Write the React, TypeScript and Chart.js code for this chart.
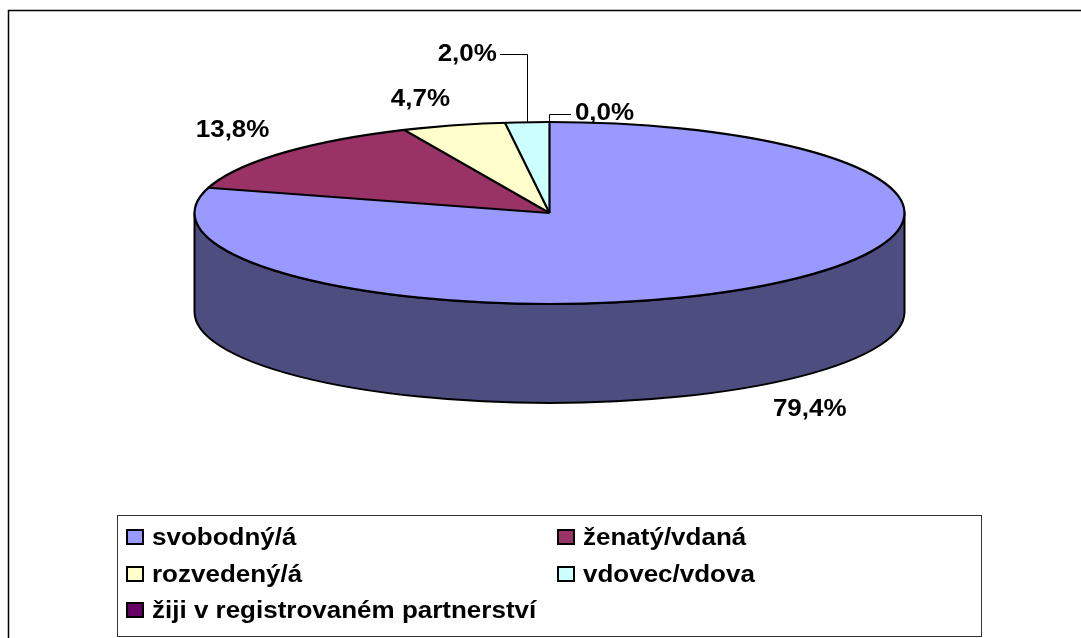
import React, { useEffect, useRef } from "react";
import { Chart, registerables } from "chart.js";

Chart.register(...registerables);

// ---- data ----
const categories = [
  "svobodný/á",
  "ženatý/vdaná",
  "rozvedený/á",
  "vdovec/vdova",
  "žiji v registrovaném partnerství",
];
const percentages = [79.4, 13.8, 4.7, 2.0, 0.0];
const sliceColors = ["#9999FF", "#993366", "#FFFFCC", "#CCFFFF", "#660066"];
// manual nudges of the data labels (Excel moved some labels, with leader lines)
const labelOffsets = [
  [0, 0],
  [10, -2],
  [-12, 4],
  [-55, -37],
  [55, 23],
];

// ---- styling / geometry ----
const W = 1081;
const H = 638;
const PIE_RX = 355;
const PIE_RY = 91;
const PIE_DEPTH = 99;
const K = PIE_RY / PIE_RX;
const FONT = "bold 23px Arial, 'Liberation Sans', sans-serif";
const STRETCH = 1.13;

function shade(hex: string, f: number): string {
  const h = hex.replace("#", "");
  const r = Math.round(parseInt(h.slice(0, 2), 16) * f);
  const g = Math.round(parseInt(h.slice(2, 4), 16) * f);
  const b = Math.round(parseInt(h.slice(4, 6), 16) * f);
  return `rgb(${r},${g},${b})`;
}

function fmt(v: number): string {
  return v.toFixed(1).replace(".", ",") + "%";
}

function stretchedText(ctx: CanvasRenderingContext2D, text: string, x: number, y: number) {
  ctx.save();
  ctx.translate(x, y);
  ctx.scale(STRETCH, 1);
  ctx.fillText(text, 0, 0);
  ctx.restore();
}

function arcGeom(chart: any) {
  const meta = chart.getDatasetMeta(0);
  const arcs = meta.data as any[];
  if (!arcs.length) return null;
  const cx = arcs[0].x;
  const cy = arcs[0].y;
  const rx = arcs[0].outerRadius;
  const ry = rx * K;
  return { arcs, cx, cy, rx, ry };
}

const pie3dPlugin = {
  id: "pie3d",
  beforeDraw(chart: any) {
    const ctx: CanvasRenderingContext2D = chart.ctx;
    ctx.save();
    ctx.fillStyle = "#ffffff";
    ctx.fillRect(0, 0, W, H);
    // outer chart frame
    ctx.strokeStyle = "#000000";
    ctx.lineWidth = 1.5;
    ctx.strokeRect(8.5, 10.5, 1120, 700);
    // legend box
    ctx.lineWidth = 1;
    ctx.strokeStyle = "#333333";
    ctx.strokeRect(117.5, 515.5, 864, 121);
    // legend items
    const colX = [126, 557];
    const rowY = [545, 582, 618];
    ctx.font = FONT;
    ctx.textAlign = "left";
    ctx.textBaseline = "alphabetic";
    categories.forEach((label, i) => {
      const x = colX[i % 2];
      const y = rowY[Math.floor(i / 2)];
      ctx.fillStyle = sliceColors[i];
      ctx.fillRect(x + 1, y - 15, 16, 14);
      ctx.lineWidth = 2;
      ctx.strokeStyle = "#000000";
      ctx.strokeRect(x + 1, y - 15, 16, 14);
      ctx.fillStyle = "#000000";
      stretchedText(ctx, label, x + 26, y);
    });
    ctx.restore();
  },
  beforeDatasetsDraw(chart: any) {
    const g = arcGeom(chart);
    const ctx: CanvasRenderingContext2D = chart.ctx;
    if (!g) {
      ctx.save();
      return;
    }
    const { arcs, cx, cy, rx, ry } = g;
    const TAU = Math.PI * 2;
    ctx.save();
    ctx.lineWidth = 2;
    ctx.strokeStyle = "#000000";
    ctx.lineJoin = "round";
    arcs.forEach((arc: any, i: number) => {
      const s = arc.startAngle;
      const e = arc.endAngle;
      if (e - s <= 1e-6) return;
      for (const k of [-1, 0, 1]) {
        const a1 = Math.max(s + k * TAU, 0);
        const a2 = Math.min(e + k * TAU, Math.PI);
        if (a2 - a1 <= 1e-6) continue;
        ctx.beginPath();
        ctx.ellipse(cx, cy, rx, ry, 0, a1, a2, false);
        ctx.lineTo(cx + rx * Math.cos(a2), cy + PIE_DEPTH + ry * Math.sin(a2));
        ctx.ellipse(cx, cy + PIE_DEPTH, rx, ry, 0, a2, a1, true);
        ctx.closePath();
        ctx.fillStyle = shade(sliceColors[i], 0.5);
        ctx.fill();
        ctx.stroke();
      }
    });
    ctx.restore();
    // squash the top face drawn by Chart.js into an ellipse
    ctx.save();
    ctx.translate(0, cy);
    ctx.scale(1, K);
    ctx.translate(0, -cy);
  },
  afterDatasetsDraw(chart: any) {
    const ctx: CanvasRenderingContext2D = chart.ctx;
    ctx.restore();
    const g = arcGeom(chart);
    if (!g) return;
    const { arcs, cx, cy, rx, ry } = g;
    ctx.save();
    ctx.lineWidth = 2.2;
    ctx.strokeStyle = "#000000";
    ctx.lineJoin = "round";
    // top outline
    ctx.beginPath();
    ctx.ellipse(cx, cy, rx, ry, 0, 0, Math.PI * 2);
    ctx.stroke();
    // radial slice borders
    arcs.forEach((arc: any) => {
      if (arc.endAngle - arc.startAngle <= 1e-6) return;
      ctx.beginPath();
      ctx.moveTo(cx, cy);
      ctx.lineTo(cx + rx * Math.cos(arc.startAngle), cy + ry * Math.sin(arc.startAngle));
      ctx.stroke();
    });
    ctx.restore();

    // data labels
    ctx.save();
    ctx.font = FONT;
    ctx.textAlign = "center";
    ctx.textBaseline = "middle";
    arcs.forEach((arc: any, i: number) => {
      const mid = (arc.startAngle + arc.endAngle) / 2;
      const c = Math.cos(mid);
      const s = Math.sin(mid);
      const baseX = cx + c * rx * 1.22;
      const baseY = cy + s * ry * 1.34 + (s > 0 ? PIE_DEPTH : 0);
      const [ox, oy] = labelOffsets[i];
      const lx = baseX + ox;
      const ly = baseY + oy;
      const text = fmt(percentages[i]);
      const tw = ctx.measureText(text).width * STRETCH;
      if (Math.abs(ox) > 20 || Math.abs(oy) > 20) {
        const ax = cx + rx * c;
        const ay = cy + ry * s;
        const startX = ax > lx ? lx + tw / 2 + 3 : lx - tw / 2 - 4;
        ctx.beginPath();
        ctx.lineWidth = 1;
        ctx.strokeStyle = "#000000";
        ctx.moveTo(Math.round(startX), Math.round(ly) + 0.5);
        ctx.lineTo(Math.round(ax) + 0.5, Math.round(ly) + 0.5);
        ctx.lineTo(Math.round(ax) + 0.5, Math.round(ay));
        ctx.stroke();
      }
      ctx.fillStyle = "#000000";
      stretchedText(ctx, text, lx, ly);
    });
    ctx.restore();
  },
};

export default function App() {
  const canvasRef = useRef<HTMLCanvasElement | null>(null);

  useEffect(() => {
    if (!canvasRef.current) return;
    const chart = new Chart(canvasRef.current, {
      type: "pie",
      data: {
        labels: categories,
        datasets: [
          {
            data: percentages,
            backgroundColor: sliceColors,
            borderWidth: 0,
            radius: PIE_RX,
            clip: false,
          } as any,
        ],
      },
      options: {
        responsive: false,
        animation: false,
        devicePixelRatio: 1,
        layout: { padding: { left: 18, right: 0, top: 0, bottom: 212 } },
        plugins: {
          legend: { display: false },
          tooltip: { enabled: false },
        },
        events: [],
      } as any,
      plugins: [pie3dPlugin as any],
    });
    return () => chart.destroy();
  }, []);

  return (
    <div style={{ position: "absolute", left: 0, top: 0, width: W, height: H, overflow: "hidden" }}>
      <canvas ref={canvasRef} width={W} height={H} style={{ display: "block" }} />
    </div>
  );
}
